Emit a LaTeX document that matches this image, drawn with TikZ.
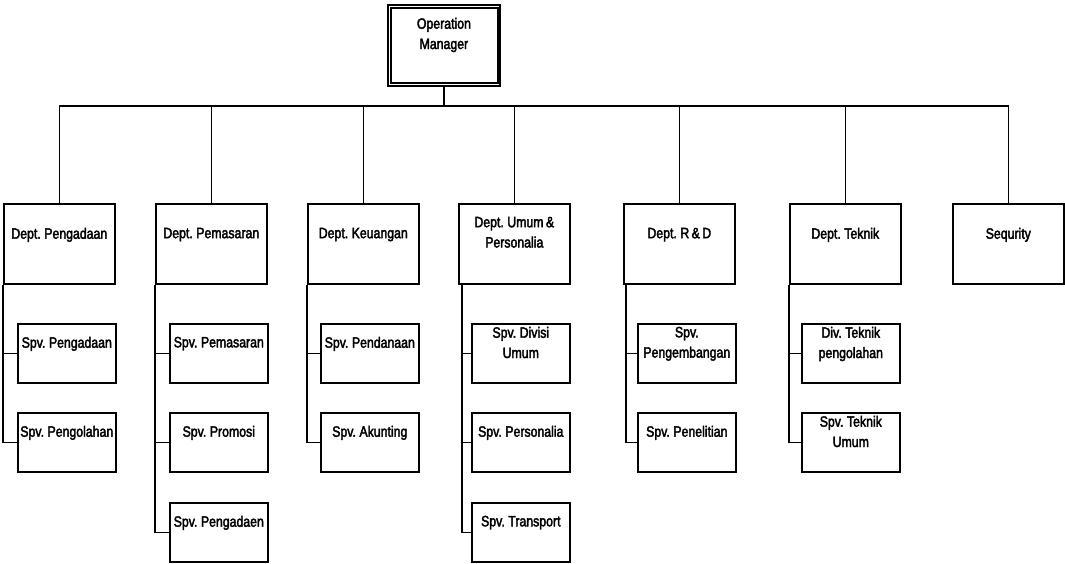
\documentclass[tikz,border=0pt]{standalone}
\usepackage{fontspec}
\setmainfont{Liberation Sans}[FakeStretch=0.82, FakeBold=2.5, WordSpace=0.7]
\usetikzlibrary{calc}
\tikzset{
  box/.style={draw, line width=1.2pt, rectangle, inner sep=0, anchor=north west},
  deptbox/.style={box, minimum width=83.25pt, minimum height=60pt},
  subbox/.style={box, minimum width=73.5pt, minimum height=44.25pt},
  txt/.style={inner sep=0, align=center, anchor=north, font=\fontsize{11.25}{15.2}\selectfont},
  link/.style={line width=1.2pt}
}
\begin{document}
\begin{tikzpicture}[x=0.75pt, y=-0.75pt]
\useasboundingbox (0,0) rectangle (1065,564);
% top
\node[box, line width=1.4pt, minimum width=84pt, minimum height=60.75pt] (om) at (387,4) {};
\draw[line width=1pt] ($(om.north west)+(4,4)$) rectangle ($(om.south east)+(-3,-4)$);
\node[txt] (omt) at ($(om.north)+(0,13.6)$) {Operation\\Manager};
% departments
\node[deptbox] (d1) at (3,203) {};
\node[deptbox] (d2) at (155,203) {};
\node[deptbox] (d3) at (307,203) {};
\node[deptbox] (d4) at (458,203) {};
\node[deptbox] (d5) at (623,203) {};
\node[deptbox] (d6) at (789,203) {};
\node[deptbox] (d7) at (952,203) {};
\node[txt] (d1t) at ($(d1.north)+(0,24.6)$) {Dept. Pengadaan};
\node[txt] (d2t) at ($(d2.north)+(0,24.6)$) {Dept. Pemasaran};
\node[txt] (d3t) at ($(d3.north)+(0,24.6)$) {Dept. Keuangan};
\node[txt] (d4t) at ($(d4.north)+(0,13.6)$) {Dept. Umum \&\\Personalia};
\node[txt] (d5t) at ($(d5.north)+(0,24.6)$) {Dept. R \& D};
\node[txt] (d6t) at ($(d6.north)+(0,24.6)$) {Dept. Teknik};
\node[txt] (d7t) at ($(d7.north)+(0,24.6)$) {Sequrity};
% bus
\foreach \d in {d1,d2,d3,d4,d5,d6,d7}
  \draw[link] (om.south) -- +(0,19) -| (\d.north);
% sub boxes
\node[subbox] (s11) at (17,323) {};
\node[subbox] (s12) at (17,412) {};
\node[subbox] (s21) at (169,323) {};
\node[subbox] (s22) at (169,412) {};
\node[subbox] (s23) at (169,502) {};
\node[subbox] (s31) at (320,323) {};
\node[subbox] (s32) at (320,412) {};
\node[subbox] (s41) at (471,323) {};
\node[subbox] (s42) at (471,412) {};
\node[subbox] (s43) at (471,502) {};
\node[subbox] (s51) at (637,323) {};
\node[subbox] (s52) at (637,412) {};
\node[subbox] (s61) at (801,323) {};
\node[subbox] (s62) at (801,412) {};
\node[txt] (s11t) at ($(s11.north)+(0,13.6)$) {Spv. Pengadaan};
\node[txt] (s12t) at ($(s12.north)+(0,13.6)$) {Spv. Pengolahan};
\node[txt] (s21t) at ($(s21.north)+(0,13.6)$) {Spv. Pemasaran};
\node[txt] (s22t) at ($(s22.north)+(0,13.6)$) {Spv. Promosi};
\node[txt] (s23t) at ($(s23.north)+(0,13.6)$) {Spv. Pengadaen};
\node[txt] (s31t) at ($(s31.north)+(0,13.6)$) {Spv. Pendanaan};
\node[txt] (s32t) at ($(s32.north)+(0,13.6)$) {Spv. Akunting};
\node[txt] (s41t) at ($(s41.north)+(0,3.6)$) {Spv. Divisi\\Umum};
\node[txt] (s42t) at ($(s42.north)+(0,13.6)$) {Spv. Personalia};
\node[txt] (s43t) at ($(s43.north)+(0,13.6)$) {Spv. Transport};
\node[txt] (s51t) at ($(s51.north)+(0,3.6)$) {Spv.\\Pengembangan};
\node[txt] (s52t) at ($(s52.north)+(0,13.6)$) {Spv. Penelitian};
\node[txt] (s61t) at ($(s61.north)+(0,3.6)$) {Div. Teknik\\pengolahan};
\node[txt] (s62t) at ($(s62.north)+(0,3.6)$) {Spv. Teknik\\Umum};
% trunks
\draw[link] (d1.south west) |- (s11.west);
\draw[link] (d1.south west) |- (s12.west);
\draw[link] (d2.south west) |- (s21.west);
\draw[link] (d2.south west) |- (s22.west);
\draw[link] (d2.south west) |- (s23.west);
\draw[link] (d3.south west) |- (s31.west);
\draw[link] (d3.south west) |- (s32.west);
\draw[link] ($(d4.south west)+(4,0)$) |- (s41.west);
\draw[link] ($(d4.south west)+(4,0)$) |- (s42.west);
\draw[link] ($(d4.south west)+(4,0)$) |- (s43.west);
\draw[link] ($(d5.south west)+(3,0)$) |- (s51.west);
\draw[link] ($(d5.south west)+(3,0)$) |- (s52.west);
\draw[link] (d6.south west) |- (s61.west);
\draw[link] (d6.south west) |- (s62.west);
\end{tikzpicture}
\end{document}
